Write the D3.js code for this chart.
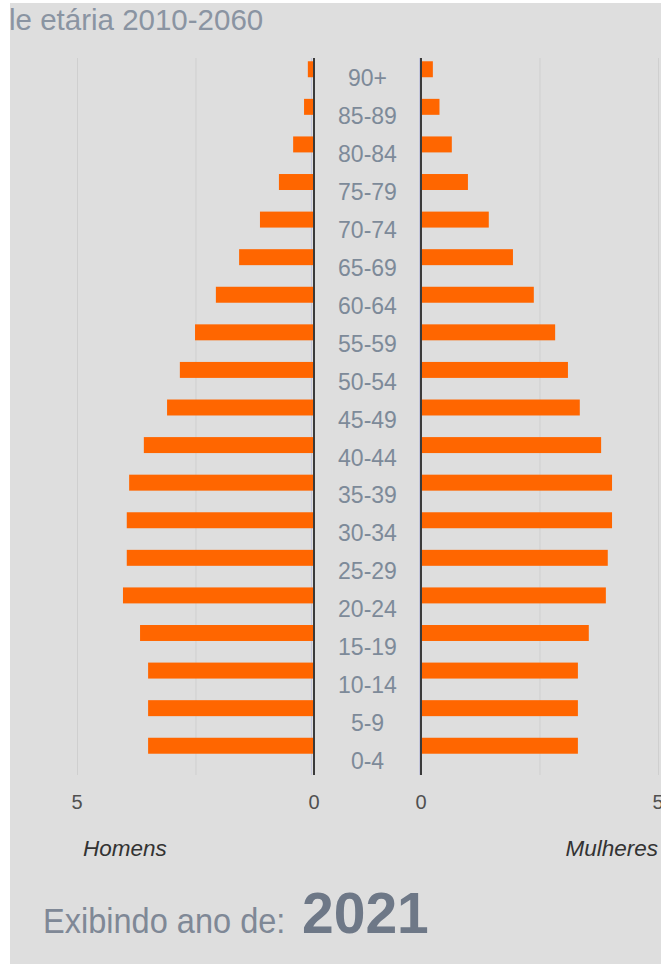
<!DOCTYPE html>
<html>
<head>
<meta charset="utf-8">
<script src="https://d3js.org/d3.v7.min.js"></script>
<style>
  body { margin: 0; background: #fff; }
  text { font-family: "Liberation Sans", Arial, sans-serif; }
</style>
</head>
<body>
<svg width="661" height="964"></svg>
<script>
var ageGroups = ["90+", "85-89", "80-84", "75-79", "70-74", "65-69", "60-64", "55-59", "50-54",
  "45-49", "40-44", "35-39", "30-34", "25-29", "20-24", "15-19", "10-14", "5-9", "0-4"];
var homens   = [0.13, 0.21, 0.44, 0.74, 1.14, 1.58, 2.07, 2.51, 2.83, 3.10, 3.59, 3.90, 3.95, 3.95, 4.03, 3.67, 3.50, 3.50, 3.50];
var mulheres = [0.25, 0.39, 0.65, 0.99, 1.43, 1.94, 2.38, 2.83, 3.10, 3.35, 3.80, 4.03, 4.03, 3.94, 3.90, 3.54, 3.31, 3.31, 3.31];
var xTicks = [0, 5];
var gridTicks = [0, 2.5, 5];
var titleText = "le etária 2010-2060";
var ano = "2021";

var svg = d3.select("svg");

svg.append("defs").append("clipPath").attr("id", "panel")
  .append("rect").attr("x", 10).attr("y", 3).attr("width", 651).attr("height", 961);

svg.append("rect").attr("x", 10).attr("y", 3).attr("width", 651).attr("height", 961).attr("fill", "#dedede");

var root = svg.append("g").attr("clip-path", "url(#panel)");

root.append("text").attr("x", 9).attr("y", 30)
  .attr("fill", "#8a94a2").attr("font-size", 29.5).text(titleText);

var yTop = 58, yBottom = 775;
var xL = d3.scaleLinear().domain([0, 5]).range([314, 77]);
var xR = d3.scaleLinear().domain([0, 5]).range([421, 658]);
var yBar = d3.scaleBand().domain(ageGroups).range([50, 765]).paddingInner(0.575).paddingOuter(0.3);
var yLab = d3.scalePoint().domain(ageGroups).range([77.5, 761]);

// grid
[xL, xR].forEach(function(sc) {
  root.selectAll(null).data(gridTicks.filter(function(t) { return t > 0; })).enter().append("line")
    .attr("x1", function(d) { return sc(d) + 0.5; }).attr("x2", function(d) { return sc(d) + 0.5; })
    .attr("y1", yTop).attr("y2", yBottom)
    .attr("stroke", "#cfcfcf").attr("stroke-width", 1);
});

// faint lines next to axes
root.append("line").attr("x1", 311.5).attr("x2", 311.5).attr("y1", yTop).attr("y2", yBottom).attr("stroke", "#c4c6dc");
root.append("line").attr("x1", 419.5).attr("x2", 419.5).attr("y1", yTop).attr("y2", yBottom).attr("stroke", "#c4c6dc");

// bars
root.selectAll(".bl").data(homens).enter().append("rect")
  .attr("x", function(d) { return xL(d); })
  .attr("y", function(d, i) { return yBar(ageGroups[i]); })
  .attr("width", function(d) { return xL(0) - xL(d); })
  .attr("height", yBar.bandwidth())
  .attr("fill", "#ff6600");

root.selectAll(".br").data(mulheres).enter().append("rect")
  .attr("x", xR(0))
  .attr("y", function(d, i) { return yBar(ageGroups[i]); })
  .attr("width", function(d) { return xR(d) - xR(0); })
  .attr("height", yBar.bandwidth())
  .attr("fill", "#ff6600");

// axis lines
[xL, xR].forEach(function(sc) {
  root.append("line").attr("x1", sc(0)).attr("x2", sc(0)).attr("y1", yTop).attr("y2", yBottom)
    .attr("stroke", "#3a3a3a").attr("stroke-width", 2);
});

// category labels
root.selectAll(".lab").data(ageGroups).enter().append("text")
  .attr("x", 367.5).attr("y", function(d) { return yLab(d); })
  .attr("dy", "0.36em").attr("text-anchor", "middle")
  .attr("font-size", 23).attr("fill", "#7d8a99")
  .text(function(d) { return d; });

// tick labels
[xL, xR].forEach(function(sc) {
  root.selectAll(null).data(xTicks).enter().append("text")
    .attr("x", function(d) { return sc(d); }).attr("y", 802)
    .attr("dy", "0.36em").attr("text-anchor", "middle")
    .attr("font-size", 20).attr("fill", "#505050")
    .text(function(d) { return d; });
});

root.append("text").attr("x", 83).attr("y", 856).attr("font-size", 22.5).attr("font-style", "italic")
  .attr("fill", "#333").text("Homens");
root.append("text").attr("x", 658).attr("y", 856).attr("font-size", 22.5).attr("font-style", "italic")
  .attr("text-anchor", "end").attr("fill", "#333").text("Mulheres");

root.append("text").attr("transform", "translate(43,933) scale(0.93,1)")
  .attr("font-size", 35).attr("fill", "#7f8896").text("Exibindo ano de:");
root.append("text").attr("x", 302).attr("y", 933)
  .attr("font-size", 57).attr("font-weight", "bold").attr("fill", "#6e7887").text(ano);
</script>
</body>
</html>
